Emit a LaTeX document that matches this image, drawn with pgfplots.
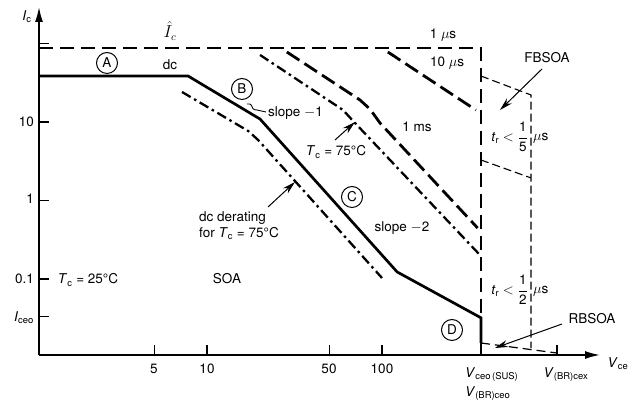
\documentclass[border=0pt]{standalone}
\usepackage{fontspec}
\setmainfont{TeX Gyre Heros}
\usepackage{amsmath}
\usepackage{pgfplots}
\pgfplotsset{compat=1.18}
\usetikzlibrary{arrows.meta}

\newcommand{\sub}[1]{\textsubscript{\upshape #1}}
\newcommand{\fsz}{\fontsize{13.5}{16}\selectfont}

% pixel frame of the reference: origin top left, axis corner at (39,355)
\tikzset{
  px/.style={x=1pt,y=-1pt,shift={(-39pt,355pt)}},
  lbl/.style={font=\fsz, inner sep=0pt},
  circ/.style={draw, circle, line width=1pt, minimum size=21pt, inner sep=0pt, font=\fsz},
  pointer/.style={line width=1pt, -{Stealth[length=13pt,width=7pt]}},
}
\pgfplotsset{
  soa/.style={black, line width=2.7pt, line join=miter},
  pulse/.style={black, line width=2.8pt, dash pattern=on 15pt off 6pt},
  derate/.style={black, line width=2.3pt, dash pattern=on 10pt off 4pt on 2.5pt off 4pt},
  bound/.style={black, line width=1.3pt, dash pattern=on 14pt off 7pt},
  fbsoa/.style={black, line width=1.1pt, dash pattern=on 8pt off 4pt},
}

\begin{document}
\begin{tikzpicture}
\begin{scope}[px]
  \useasboundingbox (0,0) rectangle (630,400);
\end{scope}

\begin{axis}[
    scale only axis, width=561pt, height=348pt,
    xmode=log, ymode=log,
    xmin=1.0965, xmax=1761, ymin=0.01076, ymax=291.7,
    axis lines=left,
    axis line style={line width=1.6pt, -{Latex[length=15pt,width=8pt]}},
    xtick={5,10,50,100,1000},
    ytick={0.033,0.1,1,10,87.6,100},
    xticklabels={,,,,}, yticklabels={,,,,,},
    xminorticks=false, yminorticks=false,
    tick align=inside, major tick length=10pt,
    tick style={black, line width=1.4pt},
    clip=false,
]
  % dc limit, Tc = 25 C
  \addplot[soa] coordinates {(1.0965,38.5) (7.8,38.5) (20.1,10.9) (122,0.123) (368,0.032) (368,0.0153)};
  % peak current and Vceo(sus) bound (1 us)
  \addplot[bound] coordinates {(1.0965,87.6) (368,87.6) (368,0.01076)};
  % RBSOA
  \addplot[black, line width=1.2pt, dash pattern=on 9pt off 5pt] coordinates {(368,0.0153) (1000,0.0114)};
  % FBSOA
  \addplot[fbsoa] coordinates {(368,38.5) (710,22.1) (710,0.0132)};
  \addplot[fbsoa] coordinates {(368,3.28) (710,1.94)};
  % pulse lines
  \addplot[pulse] coordinates {(108,77.9) (344,14.2)};
  \addplot[pulse] coordinates {(28.6,77.9) (74.8,19.1) (85.4,14.6) (97.4,9.71) (352,0.446)};
  % derating at Tc = 75 C
  \addplot[derate] coordinates {(20.1,71.4) (59.9,14.2) (70.1,9.71) (363,0.202)};
  \addplot[derate] coordinates {(7.2,24.1) (17.2,7.68) (19.6,5.90) (100,0.103)};
\end{axis}

\begin{scope}[px]
  % tick labels
  \node[lbl, anchor=east] at (34,122) {10};
  \node[lbl, anchor=east] at (34,199) {1};
  \node[lbl, anchor=east] at (34,279) {0.1};
  \node[lbl, anchor=east] at (34,318) {\textit{I}\sub{ceo}};
  \node[lbl] at (154,369) {5};
  \node[lbl] at (207,369) {10};
  \node[lbl] at (329,369) {50};
  \node[lbl] at (382,369) {100};
  \node[lbl, anchor=west] at (465,375) {\textit{V}\sub{ceo\,(SUS)}};
  \node[lbl, anchor=west] at (465,394) {\textit{V}\sub{(BR)ceo}};
  \node[lbl] at (566,375) {\textit{V}\sub{(BR)cex}};
  % axis labels
  \node[lbl] at (27,17) {\textit{I}\sub{c}};
  \node[lbl] at (618,364) {\textit{V}\sub{ce}};
  % region marks
  \node[circ] at (107,63) {A};
  \node[circ] at (242,89) {B};
  \node[circ] at (352,197) {C};
  \node[circ] at (452,330) {D};
  % annotations
  \node[lbl, font=\fontsize{16}{18}\selectfont] at (170,31) {$\hat{I}_c$};
  \node[lbl] at (170,65) {dc};
  \node[lbl, anchor=west] at (268,113) {slope $-$1};
  \draw[line width=0.9pt] (247,104) .. controls (255,103) and (249,110) .. (257,110) -- (266,112);
  \node[lbl] at (336,152) {\textit{T}\sub{c} = 75°C};
  \draw[pointer] (335,140) -- (355,122);
  \node[lbl] at (417,127) {1 ms};
  \node[lbl] at (443,35) {1 $\mu$s};
  \node[lbl] at (447,63) {10 $\mu$s};
  \node[lbl] at (547,58) {FBSOA};
  \draw[pointer] (542,69) -- (500,110);
  \node[lbl, anchor=east] at (528,137) {\textit{t}\sub{r} $<\dfrac{\text{1}}{\text{5}}$};
  \node[lbl, anchor=west] at (533,138) {$\mu$s};
  \node[lbl, anchor=east] at (528,290) {\textit{t}\sub{r} $<\dfrac{\text{1}}{\text{2}}$};
  \node[lbl, anchor=west] at (533,291) {$\mu$s};
  \node[lbl] at (402,228) {slope $-$2};
  \node[lbl, anchor=west, align=left] at (199,226) {dc derating\\for \textit{T}\sub{c} = 75°C};
  \draw[pointer] (268,207) -- (295,182);
  \node[lbl] at (88,280) {\textit{T}\sub{c} = 25°C};
  \node[lbl] at (227,279) {SOA};
  \node[lbl] at (592,319) {RBSOA};
  \draw[pointer] (562,324) -- (495,348);
\end{scope}
\end{tikzpicture}
\end{document}
